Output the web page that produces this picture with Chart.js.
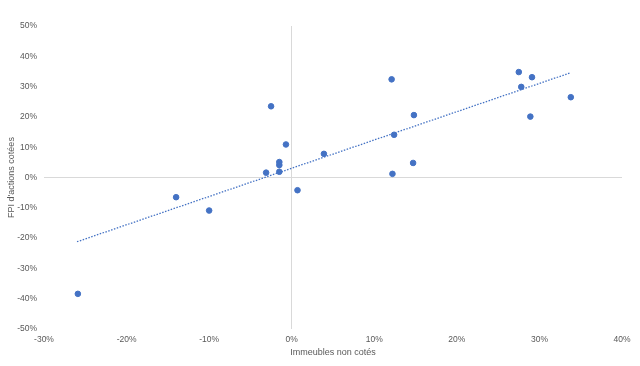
<!DOCTYPE html>
<html>
<head>
<meta charset="utf-8">
<script src="https://cdn.jsdelivr.net/npm/chart.js@4"></script>
<style>
  html, body { margin: 0; padding: 0; background: #fff; }
  #wrap { width: 640px; height: 366px; }
</style>
</head>
<body>
<div id="wrap"><canvas id="scatterChart"></canvas></div>
<script>
// Immeubles non cotés (x) vs FPI d'actions cotées (y), in %
var xValues = [-25.9, -14.0, -10.0, -3.1, -2.5, -1.5, -1.5, -1.5, -0.7, 0.7, 3.9, 12.1, 12.2, 12.4, 14.7, 14.8, 27.5, 27.8, 28.9, 29.1, 33.8];
var yValues = [-38.4, -6.5, -10.9, 1.6, 23.5, 1.9, 4.1, 5.1, 10.9, -4.2, 7.8, 32.4, 1.2, 14.1, 4.8, 20.6, 34.8, 29.9, 20.1, 33.1, 26.5];

// linear trend line end points
var trendX = [-26.0, 33.8];
var trendY = [-21.2, 34.6];

var xTicks = { min: -30, max: 40, step: 10 };
var yTicks = { min: -50, max: 50, step: 10 };

var xTitle = 'Immeubles non cotés';
var yTitle = "FPI d'actions cotées";

document.addEventListener('DOMContentLoaded', function () {
    var ctx = document.getElementById('scatterChart').getContext('2d');

    var points = xValues.map(function (x, i) { return { x: x, y: yValues[i] }; });
    var trend = trendX.map(function (x, i) { return { x: x, y: trendY[i] }; });

    var textColor = '#595959';
    var zeroLine = function (c) { return c.tick && c.tick.value === 0 ? '#d9d9d9' : 'rgba(0,0,0,0)'; };

    new Chart(ctx, {
        type: 'scatter',
        data: {
            datasets: [{
                label: 'Données',
                data: points,
                backgroundColor: '#4472C4',
                borderColor: '#4472C4',
                pointRadius: 2.8,
                pointHoverRadius: 2.8,
                order: 1
            }, {
                type: 'line',
                label: 'Tendance',
                data: trend,
                borderColor: '#4472C4',
                borderWidth: 1.3,
                borderDash: [1.5, 1.5],
                pointRadius: 0,
                fill: false,
                order: 2
            }]
        },
        options: {
            responsive: true,
            maintainAspectRatio: false,
            animation: false,
            layout: { padding: { top: 26, right: 18, bottom: 0, left: 0 } },
            plugins: {
                legend: { display: false },
                tooltip: { enabled: false }
            },
            scales: {
                x: {
                    type: 'linear',
                    min: xTicks.min,
                    max: xTicks.max,
                    border: { display: false },
                    grid: { color: zeroLine, lineWidth: 1, drawTicks: false },
                    ticks: {
                        stepSize: xTicks.step,
                        padding: 6,
                        color: textColor,
                        font: { family: 'Liberation Sans, Arial', size: 8.5 },
                        callback: function (v) { return v + '%'; }
                    },
                    title: {
                        display: true,
                        text: xTitle,
                        color: textColor,
                        font: { family: 'Liberation Sans, Arial', size: 9 },
                        padding: { top: 0, bottom: 8 }
                    },
                    afterFit: function (s) { s.height = 37; }
                },
                y: {
                    type: 'linear',
                    min: yTicks.min,
                    max: yTicks.max,
                    border: { display: false },
                    grid: { color: zeroLine, lineWidth: 1, drawTicks: false },
                    ticks: {
                        stepSize: yTicks.step,
                        padding: 7,
                        color: textColor,
                        font: { family: 'Liberation Sans, Arial', size: 8.5 },
                        callback: function (v) { return v + '%'; }
                    },
                    title: {
                        display: true,
                        text: yTitle,
                        color: textColor,
                        font: { family: 'Liberation Sans, Arial', size: 9 },
                        padding: { top: 6, bottom: 0 }
                    },
                    afterFit: function (s) { s.width = 44; }
                }
            }
        }
    });
});
</script>
</body>
</html>
